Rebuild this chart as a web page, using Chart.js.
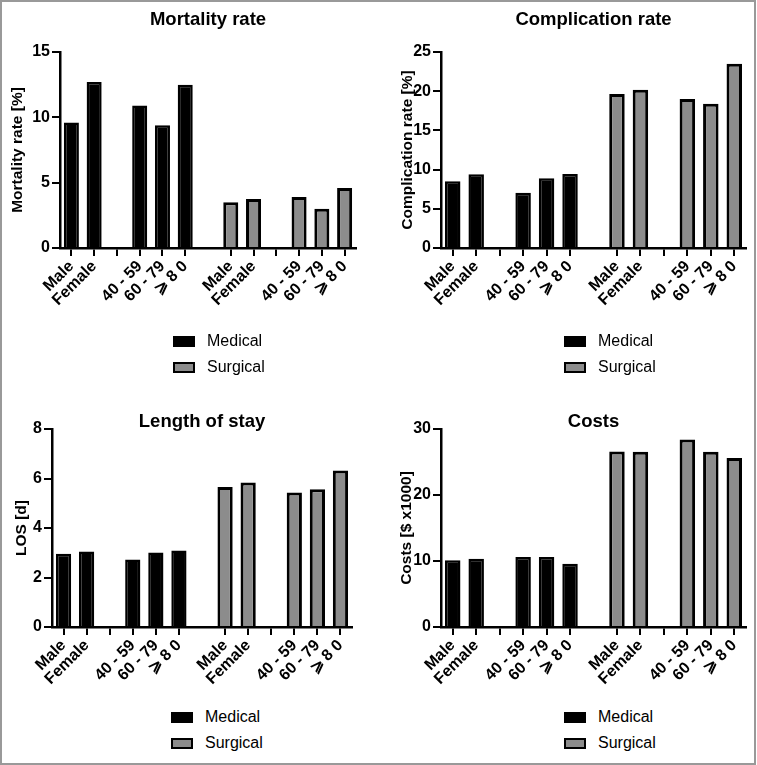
<!DOCTYPE html>
<html>
<head>
<meta charset="utf-8">
<script src="https://cdn.jsdelivr.net/npm/chart.js@4.4.1/dist/chart.umd.min.js"></script>
<style>
    body { margin: 0; background: #fff; }
    #frame { position: absolute; left: 0; top: 0; width: 756px; height: 765px; box-sizing: border-box; border: 2px solid #999; }
    .panel { position: absolute; }
    .legend { position: absolute; font: 16px 'Liberation Sans', Arial, sans-serif; color: #000; }
    .legend .row { height: 26px; display: flex; align-items: center; }
    .legend .box { display: inline-block; width: 22px; height: 11px; margin-right: 12px; box-sizing: border-box; }
</style>
</head>
<body>
<div id="frame"></div>
<div class="panel" style="left:0;top:0;width:378px;height:330px"><canvas id="mortality"></canvas></div>
<div class="panel" style="left:378px;top:0;width:379px;height:330px"><canvas id="complication"></canvas></div>
<div class="panel" style="left:0;top:380px;width:378px;height:320px"><canvas id="los"></canvas></div>
<div class="panel" style="left:378px;top:380px;width:379px;height:320px"><canvas id="costs"></canvas></div>
<div class="legend" id="leg1" style="left:173px;top:328px"></div>
<div class="legend" id="leg2" style="left:564px;top:328px"></div>
<div class="legend" id="leg3" style="left:171px;top:704px"></div>
<div class="legend" id="leg4" style="left:564px;top:704px"></div>
<script>
// categories of one group (empty slot = gap between sex and age)
const groupLabels = ['Male', 'Female', '', '40 - 59', '60 - 79', '⩾ 8 0'];
const seriesNames = ['Medical', 'Surgical'];

// values (null = gap slot)
const mortalityMedical = [9.6, 12.7, null, 10.9, 9.4, 12.5];
const mortalitySurgical = [3.5, 3.75, null, 3.9, 3.0, 4.6];
const complicationMedical = [8.5, 9.4, null, 7.05, 8.9, 9.45];
const complicationSurgical = [19.65, 20.2, null, 19.0, 18.4, 23.5];
const losMedical = [2.96, 3.05, null, 2.73, 3.01, 3.09];
const losSurgical = [5.66, 5.84, null, 5.43, 5.57, 6.32];
const costsMedical = [10.1, 10.35, null, 10.6, 10.6, 9.6];
const costsSurgical = [26.6, 26.55, null, 28.4, 26.55, 25.6];

const labels = [...groupLabels, '', ...groupLabels];
const blank = groupLabels.map(() => null);
const GAP_INDEX = groupLabels.length;

const FONT = "'Liberation Sans', Arial, sans-serif";
const MEDICAL_FILL = '#000000';
const SURGICAL_FILL = '#8c8c8c';

Chart.defaults.font.family = FONT;
Chart.defaults.color = '#000';

function makePanel(id, opts) {
    const datasets = [
        {
            label: seriesNames[0],
            data: [...opts.medical, null, ...blank],
            backgroundColor: MEDICAL_FILL,
            borderColor: '#000',
            borderWidth: 2.5
        },
        {
            label: seriesNames[1],
            data: [...blank, null, ...opts.surgical],
            backgroundColor: SURGICAL_FILL,
            borderColor: '#000',
            borderWidth: 3
        }
    ];

    new Chart(document.getElementById(id), {
        type: 'bar',
        data: { labels: labels, datasets: datasets },
        options: {
            responsive: true,
            maintainAspectRatio: false,
            animation: false,
            events: [],
            layout: { padding: { left: 0, right: opts.padRight, top: 0, bottom: 0 } },
            datasets: { bar: { grouped: false, categoryPercentage: 1, barPercentage: 0.66 } },
            plugins: {
                legend: { display: false },
                tooltip: { enabled: false },
                title: {
                    display: true,
                    text: opts.title,
                    fullSize: false,
                    color: '#000',
                    font: { size: 18.5, weight: 'bold', family: FONT },
                    padding: { top: opts.titleTop, bottom: opts.titleBottom }
                }
            },
            scales: {
                x: {
                    offset: true,
                    afterFit: (s) => { s.height = opts.axisH; },
                    border: { display: true, color: '#000', width: 2.5 },
                    grid: {
                        offset: false,
                        drawOnChartArea: false,
                        drawTicks: true,
                        tickLength: 8,
                        lineWidth: 2,
                        color: (ctx) => ctx.index === GAP_INDEX ? 'rgba(0,0,0,0)' : '#000'
                    },
                    ticks: {
                        autoSkip: false,
                        minRotation: 45,
                        maxRotation: 45,
                        padding: 1,
                        color: '#000',
                        font: { size: 16, weight: 'bold', family: FONT }
                    }
                },
                y: {
                    min: 0,
                    max: opts.yMax,
                    afterFit: (s) => { s.width = opts.axisW; },
                    border: { display: true, color: '#000', width: 2.5 },
                    grid: {
                        drawOnChartArea: false,
                        drawTicks: true,
                        tickLength: 8,
                        lineWidth: 2,
                        color: '#000'
                    },
                    ticks: {
                        stepSize: opts.step,
                        padding: 2,
                        color: '#000',
                        font: { size: 16, weight: 'bold', family: FONT }
                    },
                    title: {
                        display: true,
                        text: opts.yTitle,
                        color: '#000',
                        font: { size: 15.5, weight: 'bold', family: FONT },
                        padding: { top: opts.yTitlePad, bottom: 0 }
                    }
                }
            }
        }
    });

    // HTML legend built from the datasets
    const leg = document.getElementById(opts.legend);
    datasets.forEach(ds => {
        const row = document.createElement('div');
        row.className = 'row';
        const box = document.createElement('span');
        box.className = 'box';
        box.style.background = ds.backgroundColor;
        box.style.border = '2.5px solid ' + ds.borderColor;
        row.appendChild(box);
        row.appendChild(document.createTextNode(ds.label));
        leg.appendChild(row);
    });
}

makePanel('mortality', {
    title: 'Mortality rate', yTitle: 'Mortality rate [%]', yMax: 15, step: 5,
    medical: mortalityMedical, surgical: mortalitySurgical, legend: 'leg1',
    axisW: 60, axisH: 82, padRight: 22, titleTop: 9, titleBottom: 20.8, yTitlePad: 8
});
makePanel('complication', {
    title: 'Complication rate', yTitle: 'Complication rate [%]', yMax: 25, step: 5,
    medical: complicationMedical, surgical: complicationSurgical, legend: 'leg2',
    axisW: 63, axisH: 82, padRight: 11, titleTop: 9, titleBottom: 20.8, yTitlePad: 20
});
makePanel('los', {
    title: 'Length of stay', yTitle: 'LOS [d]', yMax: 8, step: 2,
    medical: losMedical, surgical: losSurgical, legend: 'leg3',
    axisW: 52, axisH: 73, padRight: 26, titleTop: 31, titleBottom: -4.2, yTitlePad: 12.5
});
makePanel('costs', {
    title: 'Costs', yTitle: 'Costs [$ x1000]', yMax: 30, step: 10,
    medical: costsMedical, surgical: costsSurgical, legend: 'leg4',
    axisW: 63, axisH: 73, padRight: 11, titleTop: 31, titleBottom: -4.2, yTitlePad: 19.5
});
</script>
</body>
</html>
